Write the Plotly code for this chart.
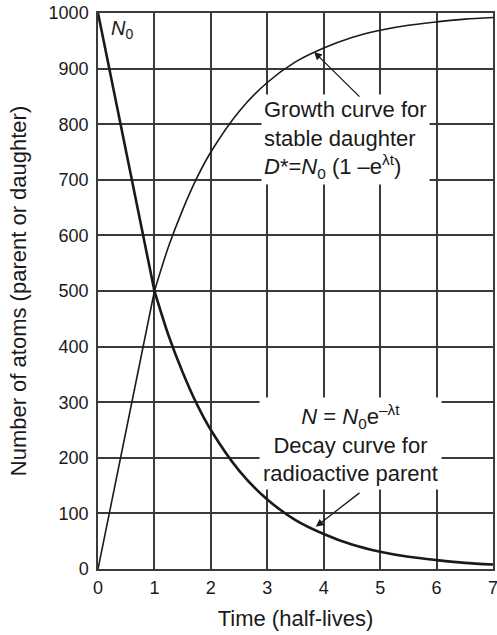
import plotly.graph_objects as go

# Data
time_half_lives = [0, 1, 1.25, 1.5, 1.75, 2, 2.5, 3, 3.5, 4, 4.5, 5, 5.5, 6, 6.5, 7]
parent_atoms = [1000, 500, 420, 354, 297, 250, 177, 125, 88, 63, 44, 31, 22, 16, 11, 8]
daughter_atoms = [0, 500, 580, 646, 703, 750, 823, 875, 912, 937, 956, 969, 978, 984, 989, 992]

x_ticks = [0, 1, 2, 3, 4, 5, 6, 7]
y_ticks = [0, 100, 200, 300, 400, 500, 600, 700, 800, 900, 1000]

FONT = "Liberation Sans, Arial, Helvetica, sans-serif"
GRID = "#3a3a3a"
INK = "#1a1a1a"

fig = go.Figure()

# straight initial segments (0 -> 1 half-life)
fig.add_trace(go.Scatter(x=time_half_lives[:2], y=parent_atoms[:2], mode="lines",
                         line=dict(color=INK, width=2.6), showlegend=False, hoverinfo="skip"))
fig.add_trace(go.Scatter(x=time_half_lives[:2], y=daughter_atoms[:2], mode="lines",
                         line=dict(color=INK, width=1.6), showlegend=False, hoverinfo="skip"))
# curved parts
fig.add_trace(go.Scatter(x=time_half_lives[1:], y=parent_atoms[1:], mode="lines",
                         line=dict(color=INK, width=2.6, shape="spline", smoothing=0.8),
                         showlegend=False, hoverinfo="skip"))
fig.add_trace(go.Scatter(x=time_half_lives[1:], y=daughter_atoms[1:], mode="lines",
                         line=dict(color=INK, width=1.6, shape="spline", smoothing=0.8),
                         showlegend=False, hoverinfo="skip"))

annotations = [
    dict(x=0.43, y=971, xref="x", yref="y", text="<i>N</i><sub>0</sub>", showarrow=False,
         font=dict(size=20, color=INK, family=FONT)),
    # growth label
    dict(x=4.38, y=772, xref="x", yref="y",
         text="Growth curve for<br>stable daughter<br><i>D</i>*=<i>N</i><sub>0</sub> (1 –e<sup>λt</sup>)",
         showarrow=False, align="left", bgcolor="white", borderpad=2,
         font=dict(size=22, color=INK, family=FONT)),
    # decay label
    dict(x=4.48, y=225, xref="x", yref="y",
         text="<i>N</i> = <i>N</i><sub>0</sub>e<sup>–λt</sup><br>Decay curve for<br>radioactive parent",
         showarrow=False, align="center", bgcolor="white", borderpad=3,
         font=dict(size=22, color=INK, family=FONT)),
    # arrows
    dict(x=3.83, y=930, xref="x", yref="y", ax=4.66, ay=847, axref="x", ayref="y",
         text="", showarrow=True, arrowhead=2, arrowsize=1.2, arrowwidth=1.3, arrowcolor=INK),
    dict(x=3.86, y=76, xref="x", yref="y", ax=4.66, ay=139, axref="x", ayref="y",
         text="", showarrow=True, arrowhead=2, arrowsize=1.2, arrowwidth=1.3, arrowcolor=INK),
]

axis_common = dict(showgrid=True, gridcolor=GRID, gridwidth=1.5, showline=True, linecolor=GRID,
                   linewidth=1.5, mirror=True, zeroline=False, ticks="",
                   tickfont=dict(size=18, color=INK, family=FONT), automargin=False,
                   ticklabeloverflow="allow")

fig.update_layout(
    width=497, height=635,
    margin=dict(l=98, r=4, t=13, b=66),
    plot_bgcolor="white", paper_bgcolor="white",
    font=dict(family=FONT, color=INK),
    annotations=annotations,
    xaxis=dict(range=[0, 7], tickvals=x_ticks, ticktext=[str(v) for v in x_ticks],
               ticklabelstandoff=2,
               title=dict(text="Time (half-lives)", font=dict(size=22, family=FONT, color=INK), standoff=13),
               **axis_common),
    yaxis=dict(range=[0, 1000], tickvals=y_ticks, ticktext=[str(v) for v in y_ticks],
               ticklabelstandoff=4,
               title=dict(text="Number of atoms (parent or daughter)", font=dict(size=22, family=FONT, color=INK), standoff=16),
               **axis_common),
)

# remove the default 8px page margin so the 497x635 figure fills the window exactly
fig.write_html("out.html", config={"displayModeBar": False},
               post_script="document.body.style.margin='0';")
